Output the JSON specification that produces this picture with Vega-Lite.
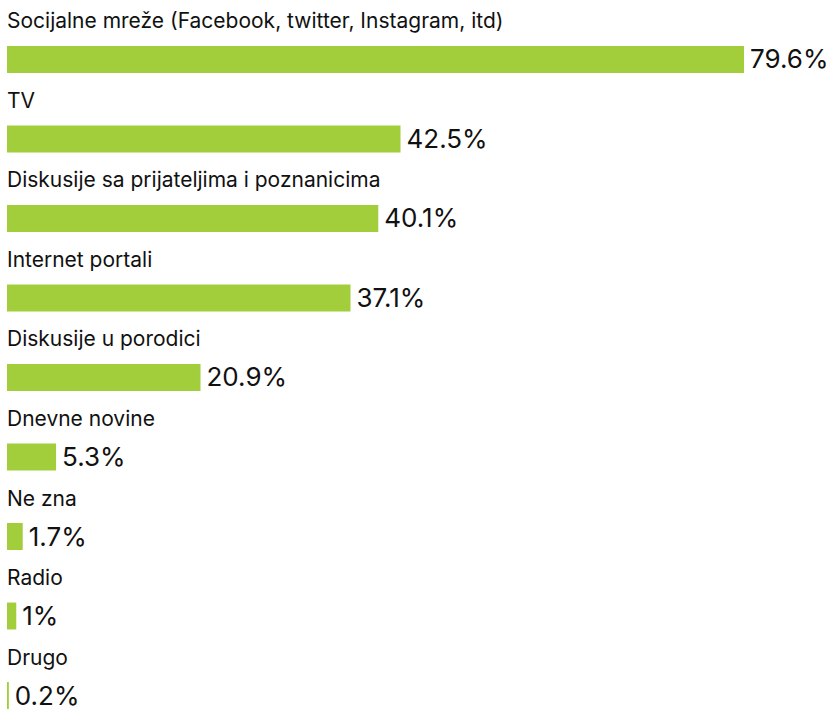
{
  "$schema": "https://vega.github.io/schema/vega-lite/v6.json",
  "width": 821,
  "height": 709,
  "padding": {"left": 7, "top": 0, "right": 0, "bottom": 0},
  "autosize": "none",
  "background": "white",
  "config": {"view": {"stroke": null}, "font": "Inter"},
  "data": {"values": [
    {"kategorija": "Socijalne mreže (Facebook, twitter, Instagram, itd)", "vrijednost": 79.6, "oznaka": "79.6%"},
    {"kategorija": "TV", "vrijednost": 42.5, "oznaka": "42.5%"},
    {"kategorija": "Diskusije sa prijateljima i poznanicima", "vrijednost": 40.1, "oznaka": "40.1%"},
    {"kategorija": "Internet portali", "vrijednost": 37.1, "oznaka": "37.1%"},
    {"kategorija": "Diskusije u porodici", "vrijednost": 20.9, "oznaka": "20.9%"},
    {"kategorija": "Dnevne novine", "vrijednost": 5.3, "oznaka": "5.3%"},
    {"kategorija": "Ne zna", "vrijednost": 1.7, "oznaka": "1.7%"},
    {"kategorija": "Radio", "vrijednost": 1.0, "oznaka": "1%"},
    {"kategorija": "Drugo", "vrijednost": 0.2, "oznaka": "0.2%"}
  ]},
  "encoding": {
    "y": {"field": "kategorija", "type": "nominal", "sort": null,
          "scale": {"paddingInner": 0.661, "paddingOuter": 0.289, "align": 1},
          "axis": null},
    "x": {"field": "vrijednost", "type": "quantitative",
          "scale": {"domain": [0, 88.67], "nice": false, "zero": true},
          "axis": null}
  },
  "layer": [
    {"mark": {"type": "bar", "color": "#a3ce3c"}},
    {"mark": {"type": "text", "align": "left", "baseline": "middle", "dx": 6, "dy": 1, "fontSize": 26, "color": "#111111"},
     "encoding": {"text": {"field": "oznaka"}}},
    {"mark": {"type": "text", "align": "left", "baseline": "middle", "dy": -37, "fontSize": 21, "color": "#111111"},
     "encoding": {"x": {"datum": 0}, "text": {"field": "kategorija"}}}
  ]
}
